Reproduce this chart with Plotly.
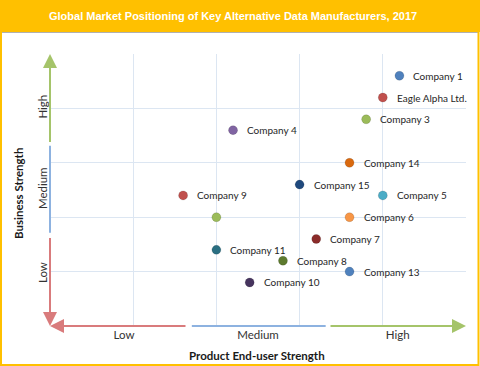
import plotly.graph_objects as go

# ---- data ----
companies = ["Company 1", "Eagle Alpha Ltd.", "Company 3", "Company 4", "Company 14",
             "Company 15", "Company 5", "Company 9", "", "Company 6", "Company 7",
             "Company 11", "Company 8", "Company 13", "Company 10"]
product_strength = [4.2, 4.0, 3.8, 2.2, 3.6, 3.0, 4.0, 1.6, 2.0, 3.6, 3.2, 2.0, 2.8, 3.6, 2.4]
business_strength = [4.6, 4.2, 3.8, 3.6, 3.0, 2.6, 2.4, 2.4, 2.0, 2.0, 1.6, 1.4, 1.2, 1.0, 0.8]
colors = ["#4F81BD", "#C0504D", "#9BBB59", "#8064A2", "#D9690F", "#1F497D", "#4BACC6",
          "#C0504D", "#9BBB59", "#F79646", "#8B2C2A", "#2A6F82", "#5D7A2E", "#4F81BD", "#46345E"]

x_tick_vals = [0.89, 2.5, 4.18]
x_tick_text = ["Low", "Medium", "High"]
y_tick_vals = [0.95, 2.5, 4.0]
y_tick_text = ["Low", "Medium", "High"]

title = "Global Market Positioning of Key Alternative Data Manufacturers, 2017"
x_title = "Product End-user Strength"
y_title = "Business Strength"

W, H = 480, 366
L, R, T, B = 50, 14, 54, 40
PW, PH = W - L - R, H - T - B


def px_x(p):
    return (p - L) / PW


def px_y(p):
    return (H - B - p) / PH


fig = go.Figure()
fig.add_trace(go.Scatter(
    x=product_strength, y=business_strength, mode="markers",
    marker=dict(size=9, color=colors, line=dict(width=0.5, color="rgba(0,0,0,0.25)")),
    hoverinfo="text", text=companies, showlegend=False))

annotations = []
for xv, yv, name in zip(product_strength, business_strength, companies):
    if name:
        annotations.append(dict(x=xv, y=yv, xref="x", yref="y", text=name, showarrow=False,
                                xanchor="left", yanchor="middle", xshift=12,
                                font=dict(family="Lato", size=10, color="#262626")))

# axis arrows (coloured thirds)
seg = [("#D97B7C", 0, 5 / 3), ("#8DB2E0", 5 / 3, 10 / 3), ("#A5C46A", 10 / 3, 5)]
arrow_common = dict(xref="x", yref="y", axref="x", ayref="y", text="", showarrow=True, arrowwidth=2)
# x axis
annotations.append(dict(x=0, y=0, ax=seg[0][2] - 0.02, ay=0, arrowhead=2, arrowsize=1.4,
                        arrowcolor=seg[0][0], **arrow_common))
annotations.append(dict(x=seg[1][2] - 0.02, y=0, ax=seg[1][1] + 0.02, ay=0, arrowhead=0,
                        arrowcolor=seg[1][0], **arrow_common))
annotations.append(dict(x=5, y=0, ax=seg[2][1] + 0.02, ay=0, arrowhead=2, arrowsize=1.4,
                        arrowcolor=seg[2][0], **arrow_common))
# y axis
annotations.append(dict(x=0, y=0, ax=0, ay=seg[0][2] - 0.02, arrowhead=2, arrowsize=1.4,
                        arrowcolor=seg[0][0], **arrow_common))
annotations.append(dict(x=0, y=seg[1][2] - 0.02, ax=0, ay=seg[1][1] + 0.02, arrowhead=0,
                        arrowcolor=seg[1][0], **arrow_common))
annotations.append(dict(x=0, y=5, ax=0, ay=seg[2][1] + 0.02, arrowhead=2, arrowsize=1.4,
                        arrowcolor=seg[2][0], **arrow_common))

# titles
annotations.append(dict(x=px_x(233), y=px_y(16), xref="paper", yref="paper", text="<b>" + title + "</b>",
                        showarrow=False, xanchor="center", yanchor="middle",
                        font=dict(family="Arial", size=11, color="white")))
annotations.append(dict(x=px_x(257), y=px_y(355), xref="paper", yref="paper", text="<b>" + x_title + "</b>",
                        showarrow=False, xanchor="center", yanchor="middle",
                        font=dict(family="Lato", size=11.5, color="#1a1a1a")))
annotations.append(dict(x=px_x(18), y=px_y(194), xref="paper", yref="paper", text="<b>" + y_title + "</b>",
                        showarrow=False, xanchor="center", yanchor="middle", textangle=-90,
                        font=dict(family="Lato", size=11.5, color="#1a1a1a")))

shapes = [
    dict(type="rect", xref="paper", yref="paper", x0=px_x(0), x1=px_x(W), y0=px_y(0), y1=px_y(32),
         fillcolor="#FFC000", line=dict(width=0), layer="below"),
    dict(type="line", xref="paper", yref="paper", x0=px_x(1), x1=px_x(W - 2), y0=px_y(32.5), y1=px_y(32.5),
         line=dict(color="#B0B0B0", width=1)),
    dict(type="rect", xref="paper", yref="paper", x0=px_x(1), x1=px_x(W - 1.5), y0=px_y(365), y1=px_y(0),
         line=dict(color="#FFC000", width=2), fillcolor="rgba(0,0,0,0)"),
]

fig.update_layout(
    width=W, height=H, margin=dict(l=L, r=R, t=T, b=B),
    paper_bgcolor="white", plot_bgcolor="white",
    annotations=annotations, shapes=shapes,
    xaxis=dict(range=[0, 5], showgrid=False, zeroline=False, showline=False,
               tickmode="array", tickvals=x_tick_vals, ticktext=x_tick_text, ticks="",
               tickfont=dict(family="Lato", size=11.5, color="#333333"),
               minor=dict(tickmode="linear", tick0=0, dtick=1, showgrid=True,
                          gridcolor="#DCE6F2", gridwidth=1, ticks="")),
    yaxis=dict(range=[0, 5], showgrid=False, zeroline=False, showline=False,
               tickmode="array", tickvals=y_tick_vals, ticktext=y_tick_text, ticks="",
               tickangle=-90, tickfont=dict(family="Lato", size=11.5, color="#333333"),
               minor=dict(tickmode="linear", tick0=0, dtick=1, showgrid=True,
                          gridcolor="#DCE6F2", gridwidth=1, ticks="")),
)

fig.write_html("out.html", config={"displayModeBar": False},
               post_script="document.body.style.margin='0px';document.body.style.overflow='hidden';")
